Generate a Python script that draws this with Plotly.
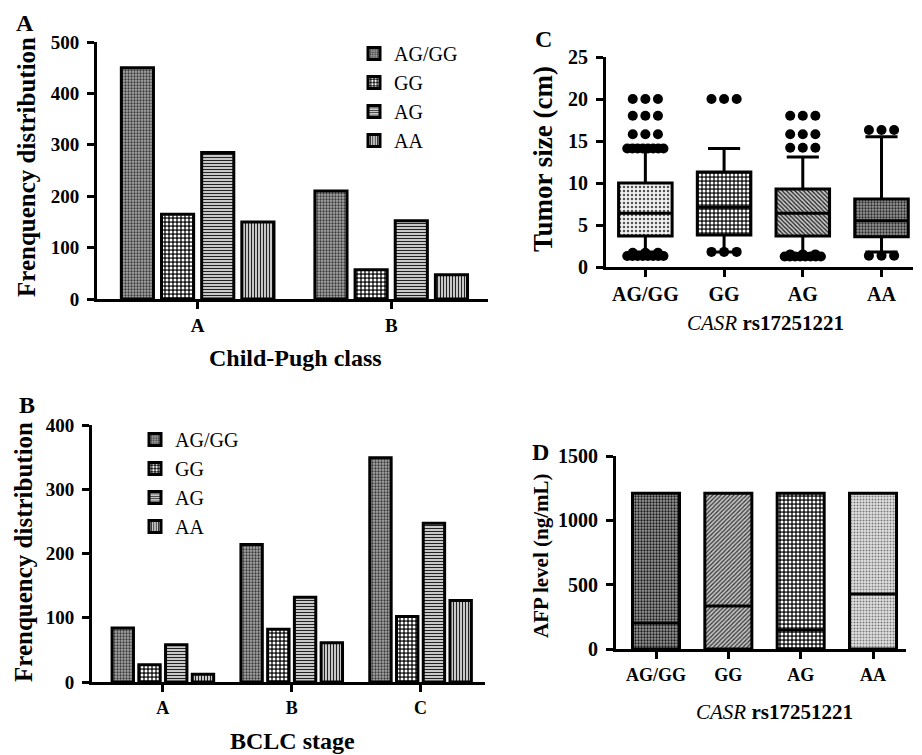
import numpy as np
import plotly.graph_objects as go

SERIF = "Liberation Serif, Times New Roman, serif"
W, H = 922, 755
PAGE_OFF = 8            # default page margin around the plot div
FW, FH = W - PAGE_OFF, H - PAGE_OFF

# ---------------- data ----------------
genotypes = ["AG/GG", "GG", "AG", "AA"]

# Panel A: Child-Pugh class
child_pugh = ["A", "B"]
a_aggg = [450, 210]
a_gg = [165, 57]
a_ag = [285, 152]
a_aa = [150, 47]

# Panel B: BCLC stage
bclc = ["A", "B", "C"]
b_aggg = [84, 214, 349]
b_gg = [27, 82, 102]
b_ag = [58, 132, 247]
b_aa = [12, 61, 127]

# Panel C: tumor size (cm) box statistics
c_q1 = [3.7, 3.8, 3.7, 3.6]
c_median = [6.4, 7.1, 6.4, 5.5]
c_q3 = [10.0, 11.3, 9.3, 8.1]
c_lowfence = [1.8, 1.8, 1.6, 1.8]
c_highfence = [13.9, 14.1, 13.1, 15.5]
c_out_aggg = [20, 20, 20, 18, 18, 18, 15.8, 15.8, 15.8,
              14.1, 14.1, 14.1, 14.1, 14.1, 14.1, 14.1, 14.1,
              1.7, 1.7, 1.7, 1.3, 1.3, 1.3, 1.3, 1.3, 1.3, 1.3, 1.3]
c_out_gg = [20, 20, 20, 1.8, 1.8, 1.8]
c_out_ag = [18, 18, 18, 15.8, 15.8, 15.8, 14.2, 14.2, 14.2,
            1.5, 1.5, 1.5, 1.25, 1.25, 1.25, 1.25, 1.25, 1.25, 1.25, 1.25]
c_out_aa = [16.3, 16.3, 16.3, 1.35, 1.35, 1.35]

# Panel D: AFP level (ng/mL) floating bars min-max with median
d_min = [0, 0, 0, 0]
d_median = [202, 334, 148, 427]
d_max = [1210, 1210, 1210, 1210]

# ---------------- helpers ----------------
def xd(px):
    return (px - PAGE_OFF) / FW

def yd(py):
    return 1 - (py - PAGE_OFF) / FH

BLACK = "black"

bar_styles = {
    "AG/GG": dict(shape=".", fgcolor="#3a3a3a", bgcolor="#a8a8a8", size=3, solidity=0.45),
    "GG": dict(shape=".", fgcolor="#ffffff", bgcolor="#1a1a1a", size=4, solidity=0.45),
    "AG": dict(shape="-", fgcolor="#222222", bgcolor="#ffffff", size=3, solidity=0.5),
    "AA": dict(shape="|", fgcolor="#222222", bgcolor="#ffffff", size=3, solidity=0.5),
}
c_styles = {
    "AG/GG": dict(shape=".", fgcolor="#555555", bgcolor="#f2f2f2", size=4, solidity=0.3),
    "GG": dict(shape=".", fgcolor="#ffffff", bgcolor="#1e1e1e", size=4, solidity=0.45),
    "AG": dict(shape="\\", fgcolor="#1a1a1a", bgcolor="#c8c8c8", size=3, solidity=0.4),
    "AA": dict(shape=".", fgcolor="#2a2a2a", bgcolor="#9a9a9a", size=3, solidity=0.45),
}
d_styles = {
    "AG/GG": dict(shape=".", fgcolor="#1a1a1a", bgcolor="#9a9a9a", size=3, solidity=0.45),
    "GG": dict(shape="/", fgcolor="#333333", bgcolor="#c4c4c4", size=3, solidity=0.4),
    "AG": dict(shape=".", fgcolor="#ffffff", bgcolor="#1a1a1a", size=4, solidity=0.45),
    "AA": dict(shape=".", fgcolor="#7a7a7a", bgcolor="#e2e2e2", size=3, solidity=0.35),
}

fig = go.Figure()

# Panel A bars
for name, vals in zip(genotypes, [a_aggg, a_gg, a_ag, a_aa]):
    st = bar_styles[name]
    fig.add_trace(go.Bar(
        x=child_pugh, y=vals, name=name, xaxis="x", yaxis="y",
        legend="legend", legendgroup="A" + name,
        marker=dict(color=st["bgcolor"], pattern=st, line=dict(color=BLACK, width=3)),
    ))

# Panel B bars
for name, vals in zip(genotypes, [b_aggg, b_gg, b_ag, b_aa]):
    st = bar_styles[name]
    fig.add_trace(go.Bar(
        x=bclc, y=vals, name=name, xaxis="x2", yaxis="y2",
        legend="legend2", legendgroup="B" + name,
        marker=dict(color=st["bgcolor"], pattern=st, line=dict(color=BLACK, width=3)),
    ))

pos = list(range(len(genotypes)))

# Panel C: patterned box fill (one bar per genotype) + box outline
CW = 0.68
for i, name in enumerate(genotypes):
    st = c_styles[name]
    fig.add_trace(go.Bar(
        x=[pos[i]], y=[c_q3[i] - c_q1[i]], base=[c_q1[i]], width=CW, offset=-CW / 2,
        xaxis="x3", yaxis="y3", showlegend=False,
        marker=dict(color=st["bgcolor"], pattern=st, line=dict(width=0)),
    ))
fig.add_trace(go.Box(
    x=pos, q1=c_q1, median=c_median, q3=c_q3,
    lowerfence=c_lowfence, upperfence=c_highfence,
    boxpoints=False, width=CW, whiskerwidth=0.6,
    fillcolor="rgba(0,0,0,0)", line=dict(color=BLACK, width=3),
    xaxis="x3", yaxis="y3", showlegend=False,
))

# outlier dots, spread sideways for tied values
ox, oy = [], []
for i, vals in enumerate([c_out_aggg, c_out_gg, c_out_ag, c_out_aa]):
    for v in sorted(set(vals), key=vals.index):
        n = vals.count(v)
        half = 0.16 if n <= 3 else 0.23
        offs = np.linspace(-half, half, n) if n > 1 else [0.0]
        for o in offs:
            ox.append(i + o)
            oy.append(v)
fig.add_trace(go.Scatter(
    x=ox, y=oy, mode="markers", xaxis="x3", yaxis="y3", showlegend=False,
    marker=dict(color=BLACK, size=10, line=dict(width=0)),
))

# Panel D floating bars (min to max, line at median)
DW = 0.65
for i, name in enumerate(genotypes):
    st = d_styles[name]
    fig.add_trace(go.Bar(
        x=[pos[i]], y=[d_max[i] - d_min[i]], base=[d_min[i]], width=DW, offset=-DW / 2,
        xaxis="x4", yaxis="y4", showlegend=False,
        marker=dict(color=st["bgcolor"], pattern=st, line=dict(width=0)),
    ))
fig.add_trace(go.Box(
    x=pos, q1=d_min, median=d_median, q3=d_max,
    lowerfence=d_min, upperfence=d_max,
    boxpoints=False, width=DW, whiskerwidth=0.6,
    fillcolor="rgba(0,0,0,0)", line=dict(color=BLACK, width=3),
    xaxis="x4", yaxis="y4", showlegend=False,
))

# ---------------- axes ----------------
def axis(size, standoff=4, **kw):
    d = dict(
        showline=True, linecolor=BLACK, linewidth=3, automargin=False,
        ticks="outside", ticklen=7, tickwidth=3, tickcolor=BLACK,
        showgrid=False, zeroline=False, ticklabelstandoff=standoff,
        tickfont=dict(family=SERIF, size=size, color=BLACK, weight="bold"),
    )
    d.update(kw)
    return d

layout = dict(
    template="none",
    width=FW, height=FH, margin=dict(l=0, r=0, t=0, b=0, autoexpand=False),
    paper_bgcolor="white", plot_bgcolor="white",
    barmode="group", bargap=0.17, bargroupgap=0.2, boxmode="overlay",
    showlegend=True,
    xaxis=axis(19, 0, type="category", domain=[xd(97), xd(488)], range=[-0.52, 1.5], anchor="y"),
    yaxis=axis(19, domain=[yd(299), yd(42)], range=[0, 500], dtick=100, anchor="x"),
    xaxis2=axis(18, 0, type="category", domain=[xd(92), xd(485)], range=[-0.55, 2.5], anchor="y2"),
    yaxis2=axis(19, domain=[yd(682), yd(425)], range=[0, 400], dtick=100, anchor="x2"),
    xaxis3=axis(20, 0, domain=[xd(606), xd(913)], range=[-0.5, 3.4], anchor="y3",
                tickmode="array", tickvals=pos, ticktext=genotypes),
    yaxis3=axis(20, domain=[yd(267), yd(57)], range=[0, 25], dtick=5, anchor="x3"),
    xaxis4=axis(18, 0, domain=[xd(616), xd(906)], range=[-0.553, 3.456], anchor="y4",
                tickmode="array", tickvals=pos, ticktext=genotypes),
    yaxis4=axis(20, domain=[yd(649), yd(456)], range=[0, 1500], dtick=500, anchor="x4"),
    legend=dict(x=xd(354), y=yd(34), xanchor="left", yanchor="top",
                font=dict(family=SERIF, size=20, color=BLACK),
                bgcolor="rgba(0,0,0,0)", tracegroupgap=1, traceorder="normal"),
    legend2=dict(x=xd(135), y=yd(420), xanchor="left", yanchor="top",
                 font=dict(family=SERIF, size=20, color=BLACK),
                 bgcolor="rgba(0,0,0,0)", tracegroupgap=0, traceorder="normal"),
)
fig.update_layout(**layout)

def ann(text, x, y, size, angle=0, bold=True):
    fig.add_annotation(
        text=text, x=xd(x), y=yd(y), xref="paper", yref="paper",
        xanchor="center", yanchor="middle", showarrow=False, textangle=angle,
        font=dict(family=SERIF, size=size, color=BLACK, weight="bold" if bold else "normal"),
    )

# panel letters
ann("A", 25, 23, 24)
ann("B", 27, 405, 24)
ann("C", 543, 39, 24)
ann("D", 540, 452, 24)
# axis titles
ann("Frenquency distribution", 26, 167, 25, angle=-90)
ann("Child-Pugh class", 295, 358, 24)
ann("Frenquency distribution", 23, 552, 25, angle=-90)
ann("BCLC stage", 292, 741, 24)
ann("Tumor size (cm)", 543, 159, 27, angle=-90)
ann("<i style='font-weight:normal'>CASR</i> rs17251221", 765, 323, 21)
ann("AFP level (ng/mL)", 541, 556, 21, angle=-90)
ann("<i style='font-weight:normal'>CASR</i> rs17251221", 774, 712, 21)

fig.write_html("out.html")
